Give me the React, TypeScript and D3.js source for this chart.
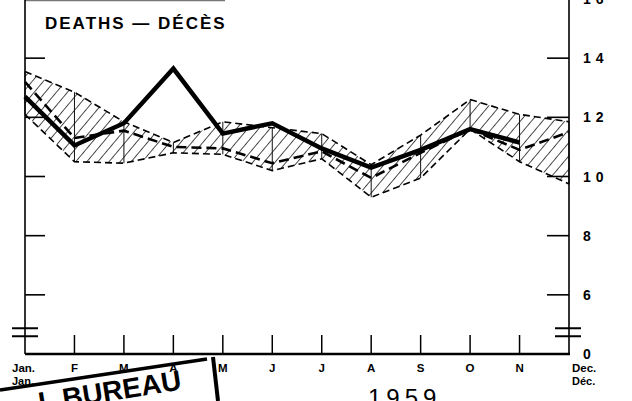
import { useEffect, useRef } from "react";
import * as d3 from "d3";

const months = ["Jan", "Feb", "Mar", "Apr", "May", "Jun", "Jul", "Aug", "Sep", "Oct", "Nov", "Dec"];
const monthLabels = ["Jan.", "F", "M", "A", "M", "J", "J", "A", "S", "O", "N", "Dec."];
const monthLabels2 = ["Jan.", "", "", "", "", "", "", "", "", "", "", "Déc."];

// band of previous years (upper and lower limits)
const upperBand = [13.55, 12.85, 11.85, 11.15, 11.85, 11.65, 11.45, 10.4, 11.4, 12.6, 12.1, 11.85];
const lowerBand = [12.1, 10.5, 10.45, 10.8, 10.75, 10.2, 10.6, 9.3, 9.95, 11.6, 10.5, 9.75];
// average line (heavy dashed)
const average = [13.2, 11.3, 11.55, 11.0, 10.95, 10.45, 10.85, 9.95, 10.8, 11.6, 10.9, 11.5];
// 1959 (heavy solid), up to November
const current = [12.7, 11.05, 11.8, 13.65, 11.45, 11.8, 10.95, 10.3, 10.9, 11.6, 11.15];

const yTicks = [6, 8, 10, 12, 14, 16];
const yTickLabels = ["6", "8", "10", "12", "14", "16"];

const W = 632;
const H = 401;

export default function App() {
  const ref = useRef(null);

  useEffect(() => {
    const svg = d3.select(ref.current);
    svg.selectAll("*").remove();

    const x = d3.scalePoint().domain(months).range([25, 569]);
    const y = d3.scaleLinear().domain([4, 16]).range([354, -1]);
    const font = "'Liberation Sans', Arial, sans-serif";

    const defs = svg.append("defs");
    const pat = defs
      .append("pattern")
      .attr("id", "hatch")
      .attr("patternUnits", "userSpaceOnUse")
      .attr("width", 8.5)
      .attr("height", 8.5)
      .attr("patternTransform", "rotate(40)");
    pat.append("line").attr("x1", 0).attr("y1", 0).attr("x2", 0).attr("y2", 8.5).attr("stroke", "#000").attr("stroke-width", 1.4);

    const bandData = months.map((m, i) => ({ m, hi: upperBand[i], lo: lowerBand[i] }));

    const area = d3
      .area<any>()
      .x((d) => x(d.m)!)
      .y0((d) => y(d.lo))
      .y1((d) => y(d.hi));
    svg.append("path").datum(bandData).attr("d", area).attr("fill", "url(#hatch)");

    // verticals inside the band
    bandData.forEach((d) => {
      svg
        .append("line")
        .attr("x1", x(d.m)!)
        .attr("x2", x(d.m)!)
        .attr("y1", y(d.hi))
        .attr("y2", y(d.lo))
        .attr("stroke", "#111")
        .attr("stroke-width", 1);
    });

    const line = d3
      .line<any>()
      .x((d) => x(d[0])!)
      .y((d) => y(d[1]));

    [upperBand, lowerBand].forEach((s) => {
      svg
        .append("path")
        .datum(s.map((v, i) => [months[i], v]))
        .attr("d", line)
        .attr("fill", "none")
        .attr("stroke", "#000")
        .attr("stroke-width", 1.6)
        .attr("stroke-dasharray", "7,4");
    });

    svg
      .append("path")
      .datum(average.map((v, i) => [months[i], v]))
      .attr("d", line)
      .attr("fill", "none")
      .attr("stroke", "#000")
      .attr("stroke-width", 2.6)
      .attr("stroke-dasharray", "10,5");

    svg
      .append("path")
      .datum(current.map((v, i) => [months[i], v]))
      .attr("d", line)
      .attr("fill", "none")
      .attr("stroke", "#000")
      .attr("stroke-width", 4.5)
      .attr("stroke-linejoin", "miter");

    // frame / axes
    const x0 = x(months[0])!;
    const x1 = x(months[months.length - 1])!;
    const yBase = y(4);

    svg.append("line").attr("x1", x0).attr("x2", 225).attr("y1", 0.5).attr("y2", 0.5).attr("stroke", "#777").attr("stroke-width", 1.5);
    svg.append("line").attr("x1", x0).attr("x2", x0).attr("y1", 0).attr("y2", yBase).attr("stroke", "#000").attr("stroke-width", 1.6);
    svg.append("line").attr("x1", x1).attr("x2", x1).attr("y1", 0).attr("y2", yBase).attr("stroke", "#000").attr("stroke-width", 1.6);
    svg.append("line").attr("x1", x0).attr("x2", x1 + 1).attr("y1", yBase).attr("y2", yBase).attr("stroke", "#000").attr("stroke-width", 2.4);

    yTicks.forEach((t, i) => {
      svg.append("line").attr("x1", x0).attr("x2", x0 + 20).attr("y1", y(t)).attr("y2", y(t)).attr("stroke", "#000").attr("stroke-width", 1.6);
      svg.append("line").attr("x1", x1 - 22).attr("x2", x1).attr("y1", y(t)).attr("y2", y(t)).attr("stroke", "#000").attr("stroke-width", 1.6);
      svg
        .append("text")
        .attr("x", x1 + 14)
        .attr("y", y(t) + 5)
        .attr("font-family", font)
        .attr("font-weight", 700)
        .attr("font-size", 14)
        .attr("letter-spacing", yTickLabels[i].length > 1 ? 5 : 0)
        .text(yTickLabels[i]);
    });
    svg
      .append("text")
      .attr("x", x1 + 14)
      .attr("y", yBase + 5)
      .attr("font-family", font)
      .attr("font-weight", 700)
      .attr("font-size", 14)
      .text("0");

    // axis breaks
    [y(4.87), y(4.6)].forEach((yy) => {
      svg.append("line").attr("x1", 12).attr("x2", 38).attr("y1", yy).attr("y2", yy).attr("stroke", "#000").attr("stroke-width", 2);
      svg.append("line").attr("x1", x1 - 14).attr("x2", x1 + 12).attr("y1", yy).attr("y2", yy).attr("stroke", "#000").attr("stroke-width", 2);
    });

    // month ticks and labels
    months.forEach((m, i) => {
      if (i > 0 && i < months.length - 1) {
        svg.append("line").attr("x1", x(m)!).attr("x2", x(m)!).attr("y1", yBase - 19).attr("y2", yBase).attr("stroke", "#000").attr("stroke-width", 1.5);
      }
      const edge = i === 0 || i === months.length - 1;
      const lx = edge ? x(m)! - 13 + (i === 0 ? 0 : 16) : x(m)!;
      svg
        .append("text")
        .attr("x", lx)
        .attr("y", 372)
        .attr("text-anchor", edge ? "start" : "middle")
        .attr("font-family", font)
        .attr("font-weight", 700)
        .attr("font-size", 11.5)
        .text(monthLabels[i]);
      if (monthLabels2[i]) {
        svg
          .append("text")
          .attr("x", lx)
          .attr("y", 385)
          .attr("font-family", font)
          .attr("font-weight", 700)
          .attr("font-size", 11)
          .text(monthLabels2[i]);
      }
    });

    // title
    svg
      .append("text")
      .attr("x", 45)
      .attr("y", 29)
      .attr("font-family", font)
      .attr("font-weight", 700)
      .attr("font-size", 17)
      .attr("letter-spacing", 2)
      .text("DEATHS — DÉCÈS");

    // year and stamp remnants at bottom
    svg
      .append("text")
      .attr("x", 368)
      .attr("y", 406)
      .attr("font-family", font)
      .attr("font-size", 24)
      .attr("letter-spacing", 5)
      .text("1959");
    svg.append("line").attr("x1", 0).attr("y1", 390).attr("x2", 207).attr("y2", 359).attr("stroke", "#000").attr("stroke-width", 3.5);
    svg.append("line").attr("x1", 213).attr("y1", 357).attr("x2", 218).attr("y2", 401).attr("stroke", "#000").attr("stroke-width", 4);
    svg
      .append("text")
      .attr("transform", "translate(40,412) rotate(-9)")
      .attr("font-family", font)
      .attr("font-weight", 700)
      .attr("font-size", 28)
      .text("L BUREAU");
  }, []);

  return (
    <svg
      ref={ref}
      width={W}
      height={H}
      style={{ position: "absolute", left: 0, top: 0, background: "#fff" }}
    />
  );
}
